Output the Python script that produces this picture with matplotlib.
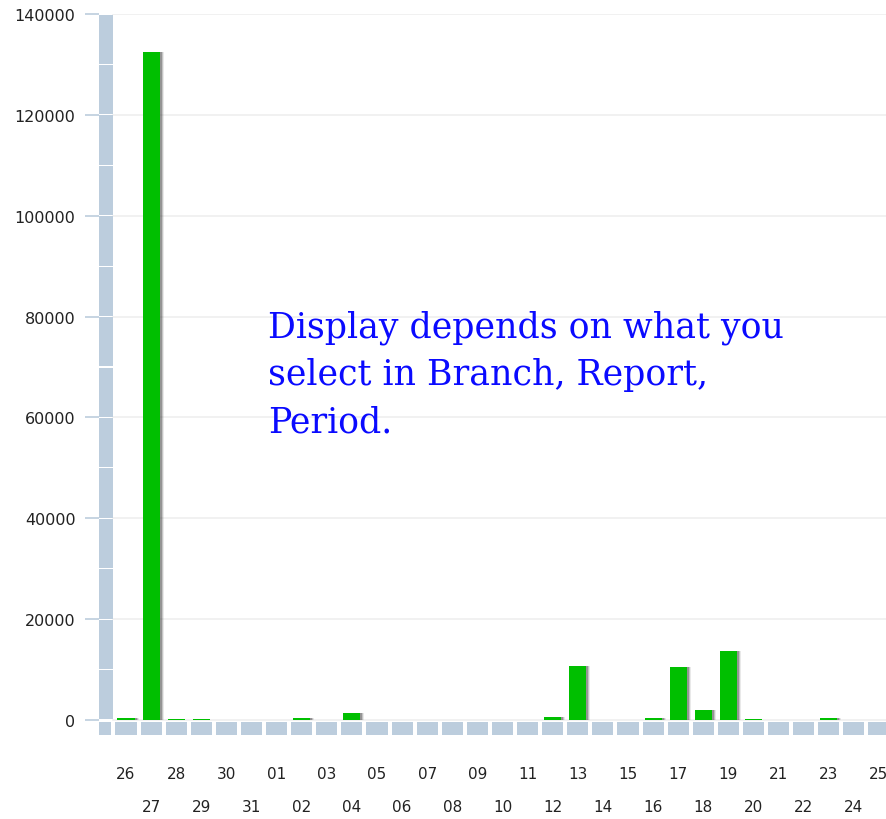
import matplotlib.pyplot as plt
from matplotlib.patches import Rectangle
import numpy as np

# Daily values (26th to 25th of next month)
days = ["26", "27", "28", "29", "30", "31", "01", "02", "03", "04", "05", "06",
        "07", "08", "09", "10", "11", "12", "13", "14", "15", "16", "17", "18",
        "19", "20", "21", "22", "23", "24", "25"]
values = [400, 132500, 120, 120, 0, 0, 0, 450, 0, 1400, 0, 0,
          0, 0, 0, 0, 0, 650, 10700, 0, 0, 330, 10500, 2000,
          13750, 120, 0, 0, 450, 0, 0]
yticks = [0, 20000, 40000, 60000, 80000, 100000, 120000, 140000]
note = ["Display depends on what you", "select in Branch, Report,", "Period."]

W, H = 887, 820
WALL = "#bccddd"
GREEN = "#00bf00"

fig = plt.figure(figsize=(W / 100, H / 100), dpi=100)
# axes: x from pixel 99 to 887, y from pixel 15 (140000) to 740
ax = fig.add_axes([99 / W, 1 - 740 / H, (W - 99) / W, (740 - 15) / H])
px_per_unit = 706 / 140000
ax.set_ylim(-(740 - 721) / px_per_unit, 140000)
step = 25.1
ax.set_xlim((99 - 126) / step, (W - 126) / step)
for s in ax.spines.values():
    s.set_visible(False)

x = np.arange(len(days))
vals = np.array(values, dtype=float)
wall_l = (99 - 126) / step
wall_r = (113 - 126) / step

# grid lines
for t in yticks:
    ax.plot([wall_r, x[-1] + 1], [t, t], color="#efefef", lw=1.2, zorder=0)

# left wall in 10000 segments
gap = 1.2 / px_per_unit
for y0 in range(0, 140000, 10000):
    ax.add_patch(Rectangle((wall_l, y0 + gap / 2), wall_r - wall_l, 10000 - gap,
                           color=WALL, lw=0, zorder=1))

# floor squares
fl_top = -2 / px_per_unit
fl_bot = -15 / px_per_unit
ax.add_patch(Rectangle((wall_l, fl_bot), (111 - 99) / step, fl_top - fl_bot,
                       color=WALL, lw=0, zorder=1))
for xi in x:
    ax.add_patch(Rectangle((xi - 0.42, fl_bot), 0.84, fl_top - fl_bot,
                           color=WALL, lw=0, zorder=1))

# bar shadows (only where the bar is tall enough), then bars
bw = 0.68
shadow_vals = np.where(vals > 300, vals, 0)
for k, a in enumerate([0.10, 0.20, 0.32]):
    off = (4 - k) / step
    ax.bar(x + off, shadow_vals, width=bw, color="#303030", alpha=a, lw=0, zorder=2)
ax.bar(x, vals, width=bw, color=GREEN, lw=0, zorder=3)

# y ticks
ax.set_yticks(yticks)
ax.set_yticklabels([str(t) for t in yticks], fontsize=11.5, color="#222222",
                   family="DejaVu Sans")
ax.tick_params(axis="y", length=10, width=1.2, color=WALL, pad=7)
ax.set_xticks([])

# staggered x labels
for i, d in enumerate(days):
    ypix = 775 if i % 2 == 0 else 808
    fig.text((126 + step * i) / W, 1 - ypix / H, d, ha="center", va="center",
             fontsize=11, color="#222222", family="DejaVu Sans")

# overlay note
for j, line in enumerate(note):
    fig.text(268 / W, 1 - (338 + 47.5 * j) / H, line, ha="left", va="baseline",
             fontsize=25, color="#0a0aff", family="DejaVu Serif")

fig.savefig("out.png", dpi=100)
plt.close("all")
